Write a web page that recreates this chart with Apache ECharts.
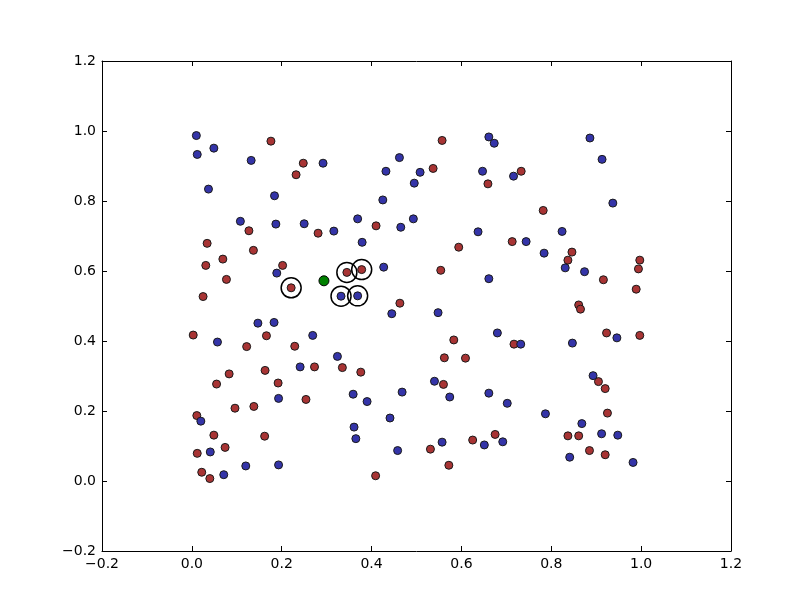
<!DOCTYPE html>
<html>
<head>
<meta charset="utf-8">
<script src="https://cdn.jsdelivr.net/npm/echarts@6/dist/echarts.min.js"></script>
<style>
html,body{margin:0;padding:0;background:#fff;}
#chart{width:812px;height:612px;}
</style>
</head>
<body>
<div id="chart"></div>
<script>
// Class A (red) points [x, y]
const redPoints = [
  [0.176,0.971],[0.248,0.908],[0.232,0.875],[0.127,0.715],[0.281,0.708],[0.034,0.679],
  [0.137,0.659],[0.069,0.634],[0.031,0.616],[0.202,0.616],[0.077,0.576],[0.221,0.552],
  [0.025,0.527],[0.557,0.973],[0.537,0.893],[0.659,0.849],[0.733,0.885],[0.782,0.773],
  [0.410,0.729],[0.594,0.668],[0.713,0.684],[0.846,0.654],[0.837,0.631],[0.916,0.575],
  [0.997,0.631],[0.994,0.606],[0.989,0.548],[0.345,0.596],[0.378,0.604],[0.554,0.602],
  [0.463,0.508],[0.861,0.503],[0.865,0.491],[0.003,0.417],[0.166,0.415],[0.122,0.384],
  [0.229,0.385],[0.083,0.306],[0.055,0.277],[0.163,0.316],[0.192,0.280],[0.273,0.326],
  [0.254,0.233],[0.096,0.208],[0.138,0.213],[0.011,0.187],[0.049,0.131],[0.162,0.128],
  [0.074,0.096],[0.012,0.079],[0.022,0.025],[0.040,0.007],[0.583,0.403],[0.335,0.324],
  [0.376,0.311],[0.562,0.352],[0.609,0.351],[0.560,0.276],[0.531,0.091],[0.625,0.117],
  [0.572,0.045],[0.409,0.015],[0.717,0.391],[0.923,0.423],[0.997,0.416],[0.905,0.284],
  [0.920,0.264],[0.925,0.194],[0.675,0.133],[0.837,0.129],[0.861,0.129],[0.885,0.087],
  [0.920,0.075]
];
// Class B (blue) points [x, y]
const bluePoints = [
  [0.010,0.987],[0.049,0.951],[0.012,0.933],[0.132,0.916],[0.292,0.908],[0.037,0.834],
  [0.184,0.815],[0.108,0.742],[0.187,0.734],[0.250,0.735],[0.316,0.714],[0.189,0.594],
  [0.661,0.983],[0.673,0.965],[0.462,0.924],[0.432,0.885],[0.508,0.882],[0.647,0.885],
  [0.495,0.851],[0.716,0.871],[0.886,0.980],[0.913,0.919],[0.937,0.794],[0.425,0.803],
  [0.369,0.749],[0.493,0.749],[0.465,0.725],[0.379,0.682],[0.637,0.712],[0.824,0.713],
  [0.744,0.684],[0.784,0.651],[0.831,0.609],[0.874,0.598],[0.427,0.611],[0.661,0.578],
  [0.332,0.528],[0.369,0.529],[0.147,0.451],[0.183,0.453],[0.057,0.397],[0.269,0.416],
  [0.324,0.356],[0.241,0.326],[0.193,0.236],[0.020,0.171],[0.041,0.083],[0.071,0.018],
  [0.120,0.043],[0.193,0.046],[0.445,0.478],[0.548,0.481],[0.540,0.285],[0.359,0.248],
  [0.390,0.227],[0.468,0.254],[0.574,0.240],[0.661,0.251],[0.441,0.180],[0.361,0.154],
  [0.365,0.121],[0.458,0.087],[0.557,0.111],[0.651,0.103],[0.680,0.423],[0.732,0.391],
  [0.847,0.394],[0.946,0.409],[0.893,0.301],[0.702,0.222],[0.787,0.192],[0.868,0.164],
  [0.692,0.112],[0.912,0.135],[0.948,0.131],[0.841,0.068],[0.982,0.053]
];
// Query point (green)
const queryPoint = [[0.294,0.572]];
// Nearest neighbours (circled)
const neighbourPoints = [
  [0.221,0.552],[0.345,0.596],[0.378,0.604],[0.332,0.528],[0.369,0.529]
];
// Tick labels
const tickValues = [-0.2,0.0,0.2,0.4,0.6,0.8,1.0,1.2];

const fmt = v => {
  const s = Math.abs(v).toFixed(1);
  return v < -1e-9 ? '\u2212' + s : s;
};

const font = {fontFamily:'DejaVu Sans', fontSize:14, color:'#000'};
function axis(pos, show, margin) {
  return {
    type:'value', position:pos, min:-0.2, max:1.2, interval:0.2,
    axisLine:{show:true, onZero:false, lineStyle:{color:'#000', width:1}},
    axisTick:{show:true, inside:true, length:5, lineStyle:{color:'#000', width:1}},
    axisLabel:Object.assign({show:show, margin:margin, formatter:fmt, showMinLabel:true, showMaxLabel:true}, font),
    splitLine:{show:false}
  };
}

const chart = echarts.init(document.getElementById('chart'), null, {renderer:'canvas'});
chart.setOption({
  animation:false,
  backgroundColor:'#fff',
  grid:{left:102, top:61, width:629, height:490, containLabel:false},
  xAxis:[axis('bottom', true, 6), axis('top', false, 6)],
  yAxis:[axis('left', true, 6), axis('right', false, 6)],
  series:[
    {type:'scatter', data:redPoints, symbol:'circle', symbolSize:8,
     itemStyle:{color:'#a83434', borderColor:'#1a1a1a', borderWidth:1, opacity:1}},
    {type:'scatter', data:bluePoints, symbol:'circle', symbolSize:8,
     itemStyle:{color:'#3434a8', borderColor:'#1a1a1a', borderWidth:1, opacity:1}},
    {type:'scatter', data:queryPoint, symbol:'circle', symbolSize:10,
     itemStyle:{color:'#008000', borderColor:'#000', borderWidth:1, opacity:1}},
    {type:'scatter', data:neighbourPoints, symbol:'circle', symbolSize:20,
     itemStyle:{color:'rgba(0,0,0,0)', borderColor:'#000', borderWidth:1.5, opacity:1}, z:5}
  ]
});
</script>
</body>
</html>
